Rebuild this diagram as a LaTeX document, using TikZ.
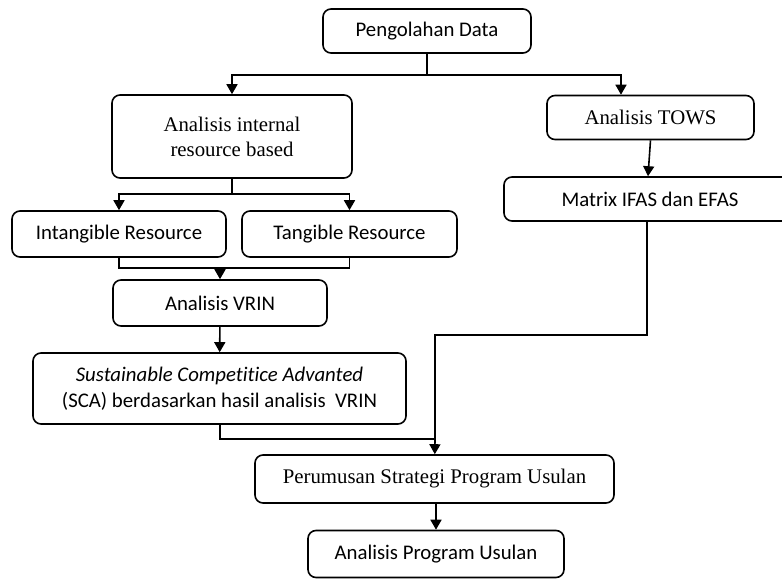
\documentclass[tikz,border=0pt]{standalone}
\usepackage{fontspec}
\setmainfont{Liberation Serif}
\newfontfamily\carlito[Ligatures=NoCommon]{Carlito}
\usepackage{tikz}
\usetikzlibrary{
  arrows.meta,
  positioning,
  calc
}
\tikzset{
  box/.style={
    draw,
    line width=1.6pt,
    rounded corners=8pt,
    align=center,
    inner sep=2pt
  },
  sansbox/.style={box, font=\carlito\fontsize{20.8}{26}\selectfont},
  serifbox/.style={box, font=\fontsize{20.8}{25}\selectfont},
  link/.style={line width=1.6pt},
  arrow/.style={link, -{Triangle[length=10pt,width=11pt]}}
}

\begin{document}
\begin{tikzpicture}[x=1pt, y=-1pt]
      \useasboundingbox (0,0) rectangle (782,579);

      \node[sansbox, minimum width=208pt, minimum height=44pt] (data) at (427,31) {Pengolahan Data};
      \node[serifbox, minimum width=240pt, minimum height=83pt] (internal) at (232,136.5) {Analisis internal\\resource based};
      \node[serifbox, minimum width=207pt, minimum height=44pt] (tows) at (650.5,117.5) {Analisis TOWS};
      \node[sansbox, minimum width=292pt, minimum height=44pt] (matrix) at (650,199) {Matrix IFAS dan EFAS};
      \node[sansbox, minimum width=214pt, minimum height=46pt] (intangible) at (119,234) {Intangible Resource};
      \node[sansbox, minimum width=215pt, minimum height=46pt] (tangible) at (349.5,234) {Tangible Resource};
      \node[sansbox, minimum width=214pt, minimum height=46pt] (vrin) at (220,303) {Analisis VRIN};
      \node[sansbox, minimum width=373pt, minimum height=71pt] (sca) at (219.5,388.5)
        {\textit{Sustainable Competitice Advanted}\\(SCA) berdasarkan hasil analisis~~VRIN};
      \node[serifbox, minimum width=359pt, minimum height=48pt] (usulan) at (434.5,479) {Perumusan Strategi Program Usulan};
      \node[sansbox, minimum width=256pt, minimum height=47pt] (program) at (436,554) {Analisis Program Usulan};

      % branch points
      \coordinate (split) at (427,75);
      \coordinate (fork) at (232,194);
      \coordinate (merge) at (220,268);
      \coordinate (turn) at (435,335);
      \coordinate (joint) at (435,439);

      \draw[link] (data) -- (split);
      \draw[arrow] (split) -| (internal);
      \draw[arrow] (split) -| ([xshift=-29.5pt]tows.north);
      \draw[arrow] (tows.south) -- ([xshift=-2pt]matrix.north);

      \draw[link] (internal) -- (fork);
      \draw[arrow] (fork) -| (intangible);
      \draw[arrow] (fork) -| (tangible);

      \draw[link] (intangible) |- (merge);
      \draw[link] (tangible) |- (merge);
      \draw[arrow] (merge) -- (vrin);
      \draw[arrow] (vrin) -- (sca);

      \draw[link] ([xshift=-3pt]matrix.south) |- (turn) -- (joint);
      \draw[link] (sca.south -| merge) |- (joint);
      \draw[arrow] (joint) -- (usulan);
      \draw[arrow] (usulan.south -| program) -- (program);
\end{tikzpicture}
\end{document}
